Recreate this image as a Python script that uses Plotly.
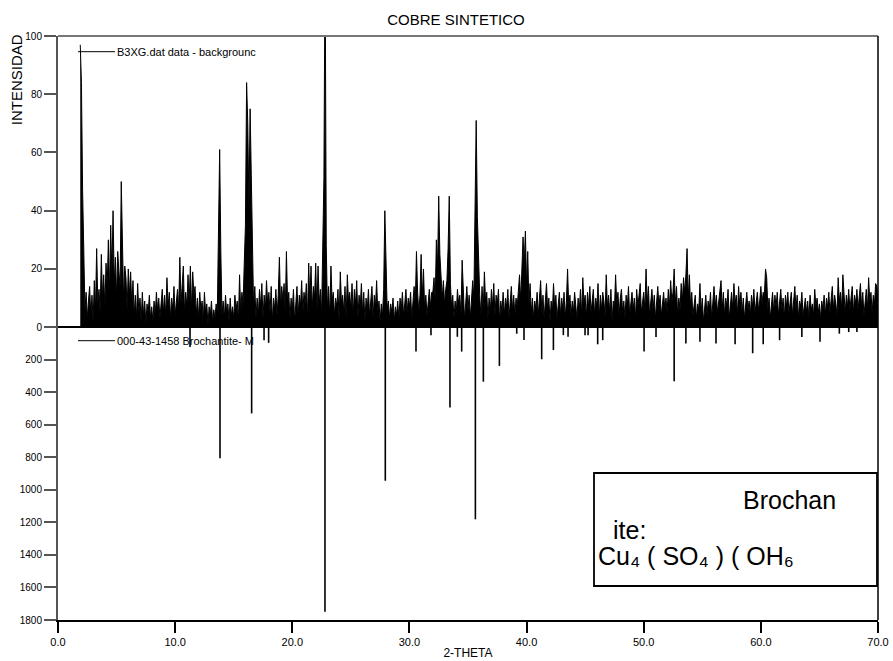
import plotly.graph_objects as go

# ---------------- DATA ----------------
# Measured pattern (B3XG.dat data - background), scan from 1.9 deg, step 0.1 deg
scan_start = 1.9
scan_step = 0.1
intensity = [
    97,
    84, 47, 31, 6, 12, 3, 9, 14, 4, 11,        # 2.x
    2, 16, 6, 27, 8, 13, 5, 25, 10, 18,        # 3.x
    7, 22, 14, 30, 12, 35, 18, 40, 15, 24,     # 4.x
    10, 26, 19, 14, 50, 23, 9, 21, 17, 6,      # 5.x
    20, 11, 19, 7, 16, 4, 11, 3, 15, 5,        # 6.x
    10, 2, 12, 4, 9, 1, 8, 5, 11, 3,           # 7.x
    7, 2, 9, 4, 12, 6, 10, 3, 8, 13,           # 8.x
    5, 11, 4, 17, 7, 12, 3, 10, 6, 14,         # 9.x
    4, 9, 13, 6, 24, 8, 15, 21, 5, 12,         # 10.x
    7, 18, 9, 21, 6, 19, 11, 14, 4, 10,        # 11.x
    3, 12, 6, 9, 2, 12, 5, 8, 1, 7,            # 12.x
    4, 9, 2, 6, 3, 8, 5, 28, 61, 26,           # 13.x
    4, 9, 3, 11, 5, 8, 2, 10, 4, 7,            # 14.x
    3, 11, 6, 9, 2, 18, 5, 12, 8, 22,          # 15.x
    35, 84, 70, 41, 75, 52, 24, 6, 14, 3,      # 16.x
    10, 4, 13, 7, 15, 3, 11, 6, 16, 8,         # 17.x
    12, 5, 14, 2, 10, 6, 13, 4, 11, 24,        # 18.x
    7, 14, 9, 15, 5, 26, 8, 12, 3, 10,         # 19.x
    6, 13, 2, 9, 14, 4, 11, 7, 16, 5,          # 20.x
    12, 8, 15, 3, 22, 9, 21, 6, 14, 10,        # 21.x
    22, 5, 21, 8, 13, 4, 30, 51, 130, 28,      # 22.x
    6, 14, 3, 21, 9, 12, 4, 10, 7, 13,         # 23.x
    2, 19, 8, 11, 5, 14, 3, 18, 9, 12,         # 24.x
    6, 15, 4, 13, 8, 16, 3, 11, 7, 15,         # 25.x
    5, 12, 2, 10, 6, 13, 4, 9, 14, 3,          # 26.x
    11, 7, 16, 5, 9, 2, 8, 4, 13, 40,          # 27.x
    25, 6, 9, 3, 8, 5, 10, 2, 7, 4,            # 28.x
    9, 3, 10, 6, 12, 4, 8, 13, 5, 10,          # 29.x
    7, 12, 3, 9, 14, 8, 26, 12, 5, 11,         # 30.x
    25, 10, 20, 6, 11, 4, 9, 13, 7, 12,        # 31.x
    12, 17, 9, 30, 20, 45, 25, 18, 10, 16,     # 32.x
    8, 13, 16, 27, 45, 15, 7, 11, 3, 9,        # 33.x
    5, 13, 8, 11, 4, 23, 9, 3, 8, 14,          # 34.x
    6, 11, 3, 9, 16, 10, 42, 71, 38, 20,       # 35.x
    11, 4, 14, 6, 19, 9, 12, 3, 10, 5,         # 36.x
    13, 7, 15, 4, 11, 8, 13, 2, 9, 5,          # 37.x
    12, 4, 10, 7, 13, 3, 9, 14, 6, 11,         # 38.x
    4, 10, 7, 14, 18, 9, 20, 31, 22, 33,       # 39.x
    14, 26, 8, 15, 5, 10, 3, 9, 6, 12,         # 40.x
    4, 9, 16, 5, 11, 3, 8, 15, 6, 10,          # 41.x
    2, 9, 5, 15, 7, 11, 3, 8, 12, 4,           # 42.x
    10, 6, 12, 3, 9, 20, 7, 11, 4, 9,          # 43.x
    5, 12, 8, 3, 10, 6, 13, 4, 17, 8,          # 44.x
    11, 3, 12, 7, 14, 5, 9, 13, 4, 10,         # 45.x
    7, 15, 3, 11, 6, 12, 9, 4, 18, 7,          # 46.x
    11, 5, 13, 2, 9, 6, 18, 8, 12, 4,          # 47.x
    10, 13, 5, 9, 3, 11, 7, 14, 4, 8,          # 48.x
    12, 6, 10, 3, 13, 7, 11, 15, 5, 9,         # 49.x
    12, 6, 20, 8, 14, 4, 10, 13, 6, 11,        # 50.x
    3, 9, 14, 7, 11, 4, 8, 12, 6, 10,          # 51.x
    5, 13, 7, 16, 9, 12, 20, 8, 14, 4,         # 52.x
    10, 6, 15, 9, 17, 12, 18, 27, 10, 18,      # 53.x
    7, 12, 4, 9, 11, 3, 8, 6, 15, 5,           # 54.x
    10, 2, 8, 11, 4, 9, 6, 12, 3, 10,          # 55.x
    14, 7, 11, 5, 9, 13, 16, 6, 12, 4,         # 56.x
    10, 7, 13, 3, 9, 12, 6, 15, 8, 11,         # 57.x
    4, 14, 7, 12, 5, 10, 3, 8, 12, 6,          # 58.x
    9, 4, 11, 7, 13, 5, 10, 12, 6, 9,          # 59.x
    14, 8, 12, 11, 20, 17, 6, 10, 3, 8,        # 60.x
    12, 5, 11, 7, 12, 4, 9, 13, 6, 10,         # 61.x
    3, 11, 7, 12, 5, 9, 12, 4, 8, 14,          # 62.x
    6, 11, 3, 9, 7, 12, 4, 8, 10, 5,           # 63.x
    9, 3, 11, 6, 8, 4, 13, 7, 10, 5,           # 64.x
    8, 3, 9, 6, 11, 4, 10, 7, 12, 5,           # 65.x
    9, 14, 6, 11, 8, 4, 17, 9, 12, 6,          # 66.x
    18, 10, 5, 11, 7, 13, 6, 10, 14, 5,        # 67.x
    11, 8, 13, 6, 10, 15, 7, 12, 4, 9,         # 68.x
    13, 6, 17, 9, 12, 5, 11, 8, 15, 14,        # 69.x
    10,                                        # 70.0
]

# Reference pattern 000-43-1458 Brochantite (stick positions / intensities)
ref_two_theta = [11.27, 13.83, 16.53, 17.59, 17.98, 22.79, 27.94, 30.56, 31.84,
                 33.46, 34.09, 34.46, 35.63, 36.31, 37.68, 39.16, 39.78, 41.29,
                 42.29, 43.14, 43.54, 44.99, 45.25, 46.07, 46.50, 50.03, 51.05,
                 52.60, 53.60, 54.80, 56.17, 57.80, 59.30, 60.20, 61.60, 63.50,
                 65.05, 66.70, 67.50, 68.20]
ref_intensity = [121, 805, 530, 80, 96, 1750, 944, 150, 49,
                 493, 59, 150, 1181, 335, 238, 40, 78, 197,
                 140, 49, 59, 49, 49, 105, 80, 150, 60,
                 333, 100, 90, 100, 105, 160, 105, 80, 60,
                 90, 40, 30, 30]

top_ticks = [100, 80, 60, 40, 20, 0]
bottom_ticks = [200, 400, 600, 800, 1000, 1200, 1400, 1600, 1800]
x_ticks = [0, 10, 20, 30, 40, 50, 60, 70]

title_text = "COBRE SINTETICO"
y_title = "INTENSIDAD"
x_title = "2-THETA"
legend_data = "B3XG.dat data - backgrounc"
legend_ref = "000-43-1458 Brochantite- M"
box_lines = ["Brochan", "ite:", "Cu\u2084 ( SO\u2084 ) ( OH\u2086"]

# ---------------- FIGURE ----------------
W, H = 893, 661
L, R, T, B = 58, 878, 36, 620
BOTTOM_SCALE = 100.55 / 1800.0   # bottom half: 0..1800 mapped below zero


def px(x):
    return (x - L) / (R - L)


def py(y):
    return (B - y) / (B - T)


two_theta = [round(scan_start + i * scan_step, 2) for i in range(len(intensity))]

stick_x, stick_y = [], []
for p, v in zip(ref_two_theta, ref_intensity):
    stick_x += [p, p, None]
    stick_y += [0, -v * BOTTOM_SCALE, None]

fig = go.Figure()
fig.add_trace(go.Scatter(x=two_theta, y=intensity, mode="lines",
                         line=dict(color="black", width=1),
                         fill="tozeroy", fillcolor="black",
                         showlegend=False, hoverinfo="skip"))
fig.add_trace(go.Scatter(x=stick_x, y=stick_y, mode="lines",
                         line=dict(color="black", width=1.6), showlegend=False,
                         hoverinfo="skip"))

tickvals = top_ticks + [-v * BOTTOM_SCALE for v in bottom_ticks]
ticktext = [str(v) for v in top_ticks] + [str(v) for v in bottom_ticks]

font = "Liberation Sans, Arial, sans-serif"

fig.update_layout(
    width=W, height=H,
    margin=dict(l=L, r=W - R, t=T, b=H - B, autoexpand=False),
    paper_bgcolor="white", plot_bgcolor="white",
    font=dict(family=font, color="black", size=10),
    title=dict(text=title_text, x=456 / W, xanchor="center",
               y=1 - 19.8 / H, yanchor="middle", font=dict(size=15)),
    xaxis=dict(range=[0, 70], tickvals=x_ticks, tickformat=".1f",
               title=dict(text=x_title, font=dict(size=12), standoff=2),
               showgrid=False, zeroline=False, showline=True,
               linecolor="black", linewidth=1.5, ticks="outside",
               ticklen=11, tickwidth=1.5, tickcolor="black",
               tickfont=dict(size=11), automargin=False, fixedrange=True),
    yaxis=dict(range=[-1800 * BOTTOM_SCALE, 100], tickvals=tickvals,
               ticktext=ticktext, showgrid=False, zeroline=True,
               zerolinecolor="black", zerolinewidth=1.5, showline=True,
               linecolor="#555555", linewidth=2, ticks="outside",
               ticklen=12, tickwidth=1.5, tickcolor="#555555",
               tickfont=dict(size=10), automargin=False, fixedrange=True),
)

# frame lines: top (grey) and right (black)
fig.add_shape(type="line", xref="paper", yref="paper", x0=0, x1=1, y0=1, y1=1,
              line=dict(color="#777777", width=2))
fig.add_shape(type="line", xref="paper", yref="paper", x0=1, x1=1, y0=0, y1=1,
              line=dict(color="black", width=1.5))

# legend lines
for ly in (51.7, 340.7):
    fig.add_shape(type="line", xref="paper", yref="paper",
                  x0=px(78), x1=px(115), y0=py(ly), y1=py(ly),
                  line=dict(color="black", width=1))

# text box
fig.add_shape(type="rect", xref="paper", yref="paper",
              x0=px(594), x1=px(877), y0=py(586), y1=py(473),
              line=dict(color="black", width=1.8), fillcolor="white")

ann = [
    dict(text=y_title, x=px(17.2), y=py(80), xanchor="center", yanchor="middle",
         textangle=-90, font=dict(size=15)),
    dict(text=legend_data, x=px(115), y=py(51.7), xanchor="left", yanchor="middle",
         font=dict(size=11)),
    dict(text=legend_ref, x=px(115), y=py(340.7), xanchor="left", yanchor="middle",
         font=dict(size=11)),
    dict(text=box_lines[0], x=px(741), y=py(500), xanchor="left", yanchor="middle",
         font=dict(size=25)),
    dict(text=box_lines[1], x=px(611), y=py(530), xanchor="left", yanchor="middle",
         font=dict(size=25)),
    dict(text=box_lines[2], x=px(596), y=py(556), xanchor="left", yanchor="middle",
         font=dict(size=25)),
]
for a in ann:
    a.update(xref="paper", yref="paper", showarrow=False)
    fig.add_annotation(**a)

fig.write_html("out.html")
